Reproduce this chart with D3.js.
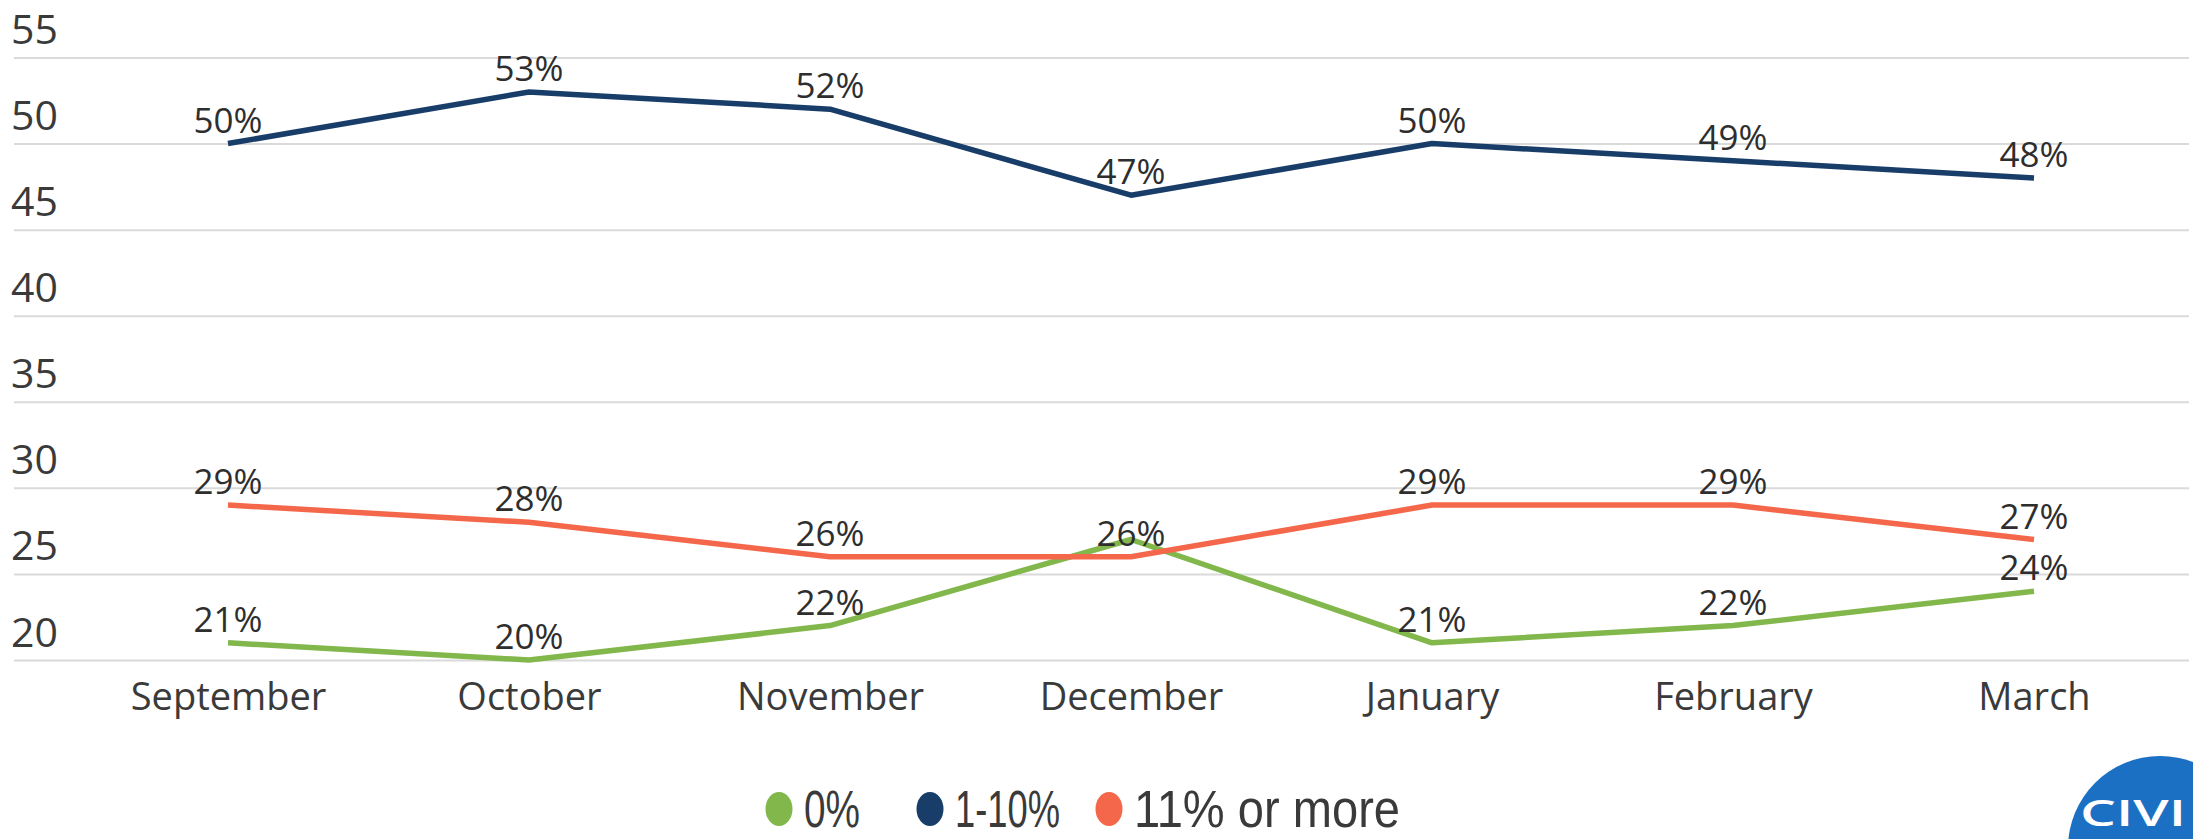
<!DOCTYPE html>
<html><head><meta charset="utf-8">
<script src="https://cdn.jsdelivr.net/npm/d3@7"></script>
<style>
html,body{margin:0;padding:0;background:#fff;overflow:hidden}
svg{display:block}
</style></head>
<body><svg id="chart" width="2193" height="839"></svg>
<script>
const months = ["September","October","November","December","January","February","March"];
const seriesNames = ["0%","1-10%","11% or more"];
const zeroPct = [21,20,22,27,21,22,24];
const oneToTen = [50,53,52,47,50,49,48];
const elevenPlus = [29,28,26,26,29,29,27];
const zeroPctLabelShown = [true,true,true,false,true,true,true];
const yTicks = [20,25,30,35,40,45,50,55];
const seriesColors = ["#82b74b","#183d69","#f4674a"];

const svg = d3.select("#chart");
const gridLeft = 14, gridRight = 2189;
const x = d3.scalePoint().domain(months).range([228, 2034]);
const y = d3.scaleLinear().domain([20,55]).range([660,57.5]);

const fontAxis = "'Open Sans', 'Noto Sans', sans-serif";

// y axis with gridlines
const yAxis = svg.append("g").attr("transform",`translate(${gridLeft},0)`)
  .call(d3.axisLeft(y).tickValues(yTicks).tickSize(-(gridRight-gridLeft)).tickFormat(d3.format("d")));
yAxis.select(".domain").remove();
yAxis.selectAll(".tick line").attr("stroke","#dadada").attr("stroke-width",2);
yAxis.selectAll(".tick text").attr("x",-3).attr("y",-14).attr("dy",0)
  .attr("text-anchor","start").attr("fill","#3a3a3a")
  .style("font-family",fontAxis).style("font-size","41px");

// x axis
const xAxis = svg.append("g").attr("transform","translate(0,660)")
  .call(d3.axisBottom(x).tickSize(0));
xAxis.select(".domain").remove();
xAxis.selectAll(".tick text").attr("y",50).attr("dy",0).attr("fill","#3a3a3a")
  .style("font-family",fontAxis).style("font-size","38px");

const series = [
  {name:seriesNames[0], values:zeroPct, color:seriesColors[0], shown:zeroPctLabelShown},
  {name:seriesNames[1], values:oneToTen, color:seriesColors[1], shown:months.map(()=>true)},
  {name:seriesNames[2], values:elevenPlus, color:seriesColors[2], shown:months.map(()=>true)}
];

const line = d3.line().x((d,i)=>x(months[i])).y(d=>y(d));
svg.append("g").selectAll("path").data(series).join("path")
  .attr("d",s=>line(s.values)).attr("fill","none")
  .attr("stroke",s=>s.color).attr("stroke-width",5.5)
  .attr("stroke-linejoin","round").attr("stroke-linecap","butt");

// data labels
const lbl = svg.append("g");
series.forEach(s=>{
  lbl.selectAll(null).data(s.values.map((v,i)=>({v,i})).filter(d=>s.shown[d.i])).join("text")
    .attr("x",d=>x(months[d.i])).attr("y",d=>y(d.v)-11)
    .attr("text-anchor","middle").attr("fill","#2e2e2e")
    .style("font-family",fontAxis).style("font-size","35px")
    .text(d=>d.v+"%");
});

// legend
const legendX = [779, 930, 1109];
const legendTextW = [56, 105, 266];
const lg = svg.append("g");
series.forEach((s,i)=>{
  lg.append("ellipse").attr("cx",legendX[i]).attr("cy",809).attr("rx",13.5).attr("ry",17)
    .attr("fill",s.color);
  lg.append("text").attr("x",legendX[i]+25).attr("y",827)
    .attr("fill","#3a3a3a")
    .attr("textLength",legendTextW[i]).attr("lengthAdjust","spacingAndGlyphs")
    .style("font-family","'Liberation Sans',sans-serif")
    .style("font-size","51px").text(s.name);
});

// logo (partially visible)
svg.append("circle").attr("cx",2160).attr("cy",848).attr("r",92).attr("fill","#1b70c4");
svg.append("text").attr("x",2080).attr("y",826).attr("fill","#fff")
  .attr("textLength",106).attr("lengthAdjust","spacingAndGlyphs")
  .style("font-family","'Open Sans',sans-serif").style("font-weight","600")
  .style("font-size","36px").text("CIVI");
</script></body></html>
